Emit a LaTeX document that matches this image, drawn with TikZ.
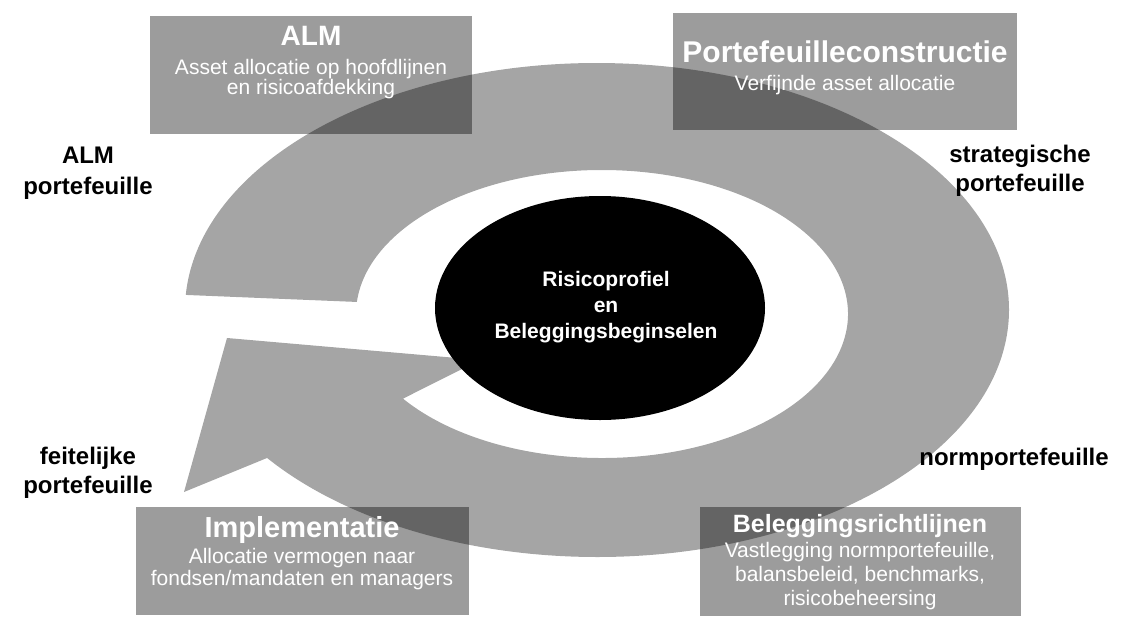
\documentclass[tikz,border=0pt]{standalone}
\usepackage{fontspec}
\setmainfont{Liberation Sans}
\usetikzlibrary{shapes.geometric}
\definecolor{ringgrey}{RGB}{165,165,165}
\tikzset{box/.style={fill=black, fill opacity=0.39, inner sep=0pt, anchor=north west},
  boxtitle/.style={white, font=\bfseries\fontsize{28}{30}\selectfont, anchor=base, inner sep=0pt},
  boxtext/.style={white, font=\fontsize{21}{20}\selectfont, align=center, anchor=base, inner sep=0pt},
  stage/.style={font=\bfseries\fontsize{24}{29}\selectfont, align=center, anchor=base, inner sep=0pt}}

\begin{document}
\begin{tikzpicture}[x=1pt, y=1pt]
    \useasboundingbox (0,0) rectangle (1131,-616);
    \fill [ringgrey] ([shift={(597,-310)}]176.5:412 and 247) arc[start angle=176.5, end angle=-143.2, x radius=412, y radius=247]
      -- (184,-492) -- (227,-338) -- (480,-360)
      -- ([shift={(602,-314)}]-144:246 and 144) arc[start angle=-144, end angle=175.2, x radius=246, y radius=144] -- cycle;
    \node [ellipse, fill=black, minimum width=330, minimum height=224, inner sep=0pt] (core) at (600,-308) {};
    \node [white, font=\bfseries\fontsize{21}{26}\selectfont, align=center, anchor=base, inner sep=0pt] (coretext) at (606,-338) {Risicoprofiel\\en\\Beleggingsbeginselen};

    \node [box, minimum width=322, minimum height=118] (almbox) at (150,-16) {};
    \node [box, minimum width=344, minimum height=117] (pcbox) at (673,-13) {};
    \node [box, minimum width=333, minimum height=108] (implbox) at (136,-507) {};
    \node [box, minimum width=321, minimum height=109] (blbox) at (700,-507) {};

    \node [boxtitle] (almtitle) at (311,-45) {ALM};
    \node [boxtext] (almtext) at (311,-94) {Asset allocatie op hoofdlijnen\\en risicoafdekking};
    \node [boxtitle, font=\bfseries\fontsize{30}{30}\selectfont] (pctitle) at (845,-62) {Portefeuilleconstructie};
    \node [boxtext] (pctext) at (845,-90) {Verfijnde asset allocatie};
    \node [boxtitle, font=\bfseries\fontsize{29}{30}\selectfont] (impltitle) at (302,-537) {Implementatie};
    \node [boxtext, font=\fontsize{21}{22}\selectfont] (impltext) at (302,-585) {Allocatie vermogen naar\\fondsen/mandaten en managers};
    \node [boxtitle, font=\bfseries\fontsize{25}{30}\selectfont] (bltitle) at (860,-532) {Beleggingsrichtlijnen};
    \node [boxtext, font=\fontsize{21}{24}\selectfont] (bltext) at (860,-605) {Vastlegging normportefeuille,\\balansbeleid, benchmarks,\\risicobeheersing};

    \node [stage, font=\bfseries\fontsize{24}{31}\selectfont] (almlabel) at (88,-194) {ALM\\portefeuille};
    \node [stage] (stratlabel) at (1020,-191) {strategische\\portefeuille};
    \node [stage] (feitlabel) at (88,-493) {feitelijke\\portefeuille};
    \node [stage] (normlabel) at (1014,-465) {normportefeuille};
\end{tikzpicture}
\end{document}
